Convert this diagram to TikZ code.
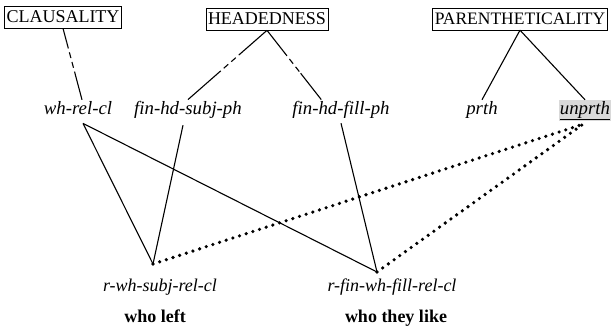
\documentclass[tikz,border=0pt]{standalone}
\usepackage{fontspec}
\setmainfont{Liberation Serif}
\usetikzlibrary{calc}
\newcommand\gapedge[4]{%
  \draw[edge] (#1) -- ($(#1)!#3!(#2)$);
  \draw[edge, dash pattern=on 6pt off 4pt] ($(#1)!#3!(#2)$) -- ($(#1)!#4!(#2)$);
  \draw[edge] ($(#1)!#4!(#2)$) -- (#2);}
\begin{document}
\begin{tikzpicture}[x=1pt,y=-1pt,
  catbox/.style={draw, line width=0.6pt, inner xsep=2pt, inner ysep=5pt, font=\fontsize{18}{21}\selectfont},
  typ/.style={inner sep=1pt, font=\fontsize{18.8}{21}\selectfont\itshape, anchor=base},
  word/.style={inner sep=1pt, font=\fontsize{18}{21}\selectfont\bfseries, anchor=base},
  edge/.style={line width=1.1pt},
  dotln/.style={line width=3.6pt, line cap=round, dash pattern=on 0pt off 7pt},
]
\useasboundingbox (0,0) rectangle (611,327);
\node[catbox] (cl) at (63,17) {CLAUSALITY};
\node[catbox] (hd) at (267,19) {HEADEDNESS};
\node[catbox, font=\fontsize{17.5}{21}\selectfont] (pa) at (520,19) {PARENTHETICALITY};
\node[typ] (whrel) at (78,114) {wh-rel-cl};
\node[typ] (fhs) at (188,114) {fin-hd-subj-ph};
\node[typ] (fhf) at (341,114) {fin-hd-fill-ph};
\node[typ] (prth) at (482,114) {prth};
\node[typ, fill=black!15] (unprth) at (585,114) {\underline{unprth}};
\node[typ, font=\fontsize{18}{21}\selectfont\itshape] (rws) at (160,291) {r-wh-subj-rel-cl};
\node[typ, font=\fontsize{18}{21}\selectfont\itshape] (rfw) at (392,291) {r-fin-wh-fill-rel-cl};
\node[word] (wl) at (155,322) {who left};
\node[word] (wtl) at (396,322) {who they like};
\coordinate (v1) at (153,264);
\coordinate (v2) at (377,272);
\coordinate (w0) at ($(whrel.south)+(5,8)$);
\coordinate (whtop) at ($(whrel.north)+(4,0)$);
\coordinate (fhftop) at ($(fhf.north west)+(30,0)$);
\coordinate (fhs0) at ($(fhs.south)+(-5,6)$);
\coordinate (fhf0) at ($(fhf.south)+(0,4)$);
\coordinate (u0) at ($(unprth.south)+(-2,3)$);
\gapedge{cl.south}{whtop}{0.2}{0.62}
\gapedge{hd.south}{fhs.north}{0.3}{0.62}
\gapedge{hd.south}{fhftop}{0.3}{0.62}
\draw[edge] (pa.south) -- (prth.north);
\draw[edge] (pa.south) -- (unprth.north);
\draw[edge] (w0) -- (v1);
\draw[edge] (w0) -- (v2);
\draw[edge] (fhs0) -- (v1);
\draw[edge] (fhf0) -- (v2);
\draw[dotln] (v1) -- (u0);
\draw[dotln] (v2) -- (u0);
\end{tikzpicture}
\end{document}
